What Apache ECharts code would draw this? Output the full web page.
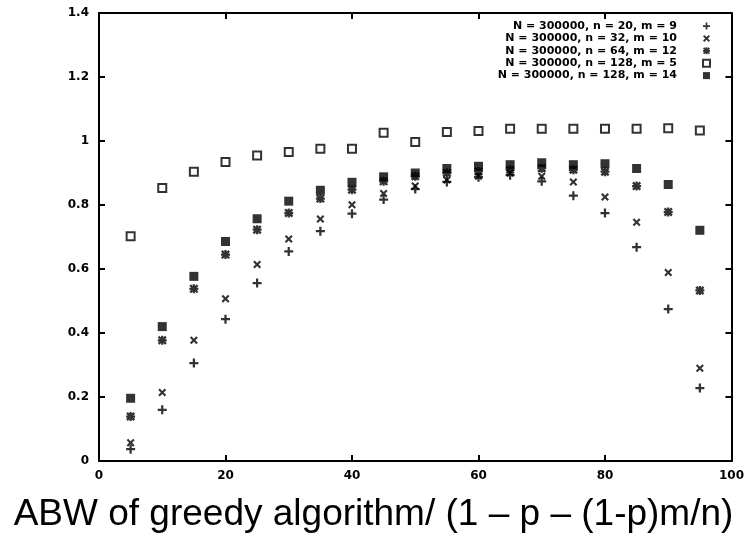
<!DOCTYPE html>
<html>
<head>
<meta charset="utf-8">
<script src="https://cdn.jsdelivr.net/npm/echarts@6/dist/echarts.min.js"></script>
<style>html,body{margin:0;padding:0;background:#fff}#c{width:747px;height:536px}</style>
</head>
<body>
<div id="c"></div>
<script>
var xValues = [5,10,15,20,25,30,35,40,45,50,55,60,65,70,75,80,85,90,95];
var seriesNames = [
  'N = 300000, n = 20, m = 9',
  'N = 300000, n = 32, m = 10',
  'N = 300000, n = 64, m = 12',
  'N = 300000, n = 128, m = 5',
  'N = 300000, n = 128, m = 14'
];
var n20m9 = [0.037,0.160,0.306,0.443,0.556,0.655,0.718,0.773,0.817,0.850,0.872,0.887,0.893,0.874,0.829,0.775,0.668,0.475,0.228];
var n32m10 = [0.057,0.214,0.377,0.507,0.614,0.694,0.756,0.801,0.836,0.859,0.878,0.890,0.900,0.890,0.872,0.825,0.746,0.589,0.290];
var n64m12 = [0.139,0.377,0.538,0.645,0.723,0.775,0.820,0.848,0.874,0.890,0.900,0.905,0.910,0.915,0.910,0.904,0.859,0.778,0.533];
var n128m5 = [0.702,0.853,0.904,0.934,0.955,0.966,0.976,0.976,1.026,0.997,1.028,1.031,1.038,1.038,1.038,1.038,1.038,1.040,1.033];
var n128m14 = [0.196,0.420,0.577,0.686,0.757,0.812,0.846,0.871,0.888,0.900,0.914,0.921,0.926,0.932,0.926,0.929,0.914,0.864,0.721];
var xTickLabels = ['0','20','40','60','80','100'];
var yTickLabels = ['0','0.2','0.4','0.6','0.8','1','1.2','1.4'];
var axisTitle = 'ABW of greedy algorithm/ (1 \u2013 p \u2013 (1-p)m/n)';

function pairs(ys){ return xValues.map(function(x,i){ return [x, ys[i]]; }); }

var PLUS = 'path://M3,0H5V3H8V5H5V8H3V5H0V3H3Z';
var CROSS = 'path://M0,1.5L1.5,0L4,2.5L6.5,0L8,1.5L5.5,4L8,6.5L6.5,8L4,5.5L1.5,8L0,6.5L2.5,4Z';
var STAR = 'path://M3,0H5V3H8V5H5V8H3V5H0V3H3Z M0,1.5L1.5,0L4,2.5L6.5,0L8,1.5L5.5,4L8,6.5L6.5,8L4,5.5L1.5,8L0,6.5L2.5,4Z';

var labelFont = {fontFamily:'DejaVu Sans', fontWeight:'bold', fontSize:12, color:'#000'};
var lineStyle = {color:'#000', width:2};

function mk(name, data, symbol, size, style){
  return {type:'scatter', name:name, data:pairs(data), symbol:symbol, symbolSize:size,
    itemStyle:style, xAxisIndex:0, yAxisIndex:0, emphasis:{disabled:true}};
}

var chart = echarts.init(document.getElementById('c'), null, {renderer:'canvas'});
chart.setOption({
  animation:false,
  backgroundColor:'#fff',
  grid:{left:99, right:13, top:13, bottom:75, containLabel:false},
  xAxis:[
    {type:'value', position:'bottom', min:0, max:100, interval:20,
     axisLine:{show:true, onZero:false, lineStyle:lineStyle},
     axisTick:{show:true, inside:true, length:6, lineStyle:lineStyle},
     axisLabel:{show:true, margin:9, formatter:function(v){ return xTickLabels[Math.round(v/20)]; }, ...labelFont},
     splitLine:{show:false}},
    {type:'value', position:'top', min:0, max:100, interval:20,
     axisLine:{show:true, onZero:false, lineStyle:lineStyle},
     axisTick:{show:true, inside:true, length:6, lineStyle:lineStyle},
     axisLabel:{show:false}, splitLine:{show:false}}
  ],
  yAxis:[
    {type:'value', position:'left', min:0, max:1.4, interval:0.2,
     axisLine:{show:true, onZero:false, lineStyle:lineStyle},
     axisTick:{show:true, inside:true, length:6, lineStyle:lineStyle},
     axisLabel:{show:true, margin:10, formatter:function(v){ return yTickLabels[Math.round(v/0.2)]; }, ...labelFont},
     splitLine:{show:false}},
    {type:'value', position:'right', min:0, max:1.4, interval:0.2,
     axisLine:{show:true, onZero:false, lineStyle:lineStyle},
     axisTick:{show:true, inside:true, length:6, lineStyle:lineStyle},
     axisLabel:{show:false}, splitLine:{show:false}}
  ],
  legend:{
    orient:'vertical', right:31, top:15, align:'right',
    itemWidth:7, itemHeight:7, itemGap:0.4,
    selectedMode:false,
    textStyle:{fontFamily:'DejaVu Sans', fontWeight:'bold', fontSize:11, color:'#000', lineHeight:12, padding:[0,21,0,0]},
    data:seriesNames
  },
  graphic:[{type:'text', left:'center', top:496,
    style:{text:axisTitle, font:'37px "Liberation Sans"', fill:'#000'}}],
  series:[
    mk(seriesNames[0], n20m9, PLUS, 9, {color:'#000'}),
    mk(seriesNames[1], n32m10, CROSS, 8, {color:'#000'}),
    mk(seriesNames[2], n64m12, STAR, 9, {color:'#000'}),
    mk(seriesNames[3], n128m5, 'rect', 8, {color:'#fff', borderColor:'#000', borderWidth:2}),
    mk(seriesNames[4], n128m14, 'rect', 9, {color:'#000'})
  ]
});
</script>
</body>
</html>
